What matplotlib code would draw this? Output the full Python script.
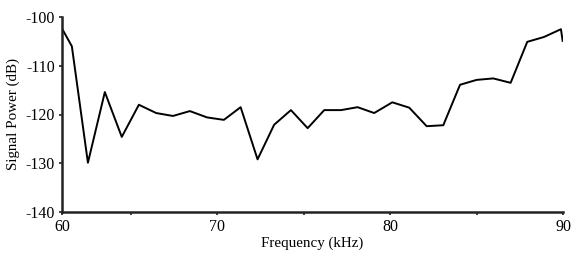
import matplotlib
matplotlib.use("Agg")
import matplotlib.pyplot as plt

freq_khz = [60.99, 61.57, 62.50, 63.48, 64.46, 65.45, 66.45, 67.42, 68.40, 69.40,
            70.37, 71.34, 72.32, 73.28, 74.25, 75.22, 76.18, 77.15, 78.11, 79.07,
            80.12, 81.10, 82.11, 83.07, 84.04, 85.00, 85.96, 86.97, 87.93, 88.90,
            89.88, 89.98]
power_db = [-102.3, -106.0, -129.9, -115.4, -124.6, -118.0, -119.7, -120.3, -119.3, -120.6,
            -121.1, -118.5, -129.2, -122.1, -119.1, -122.8, -119.1, -119.1, -118.5, -119.7,
            -117.5, -118.6, -122.4, -122.2, -113.9, -112.9, -112.6, -113.5, -105.1, -104.1,
            -102.5, -104.9]

x_ticks = [61, 65, 70, 75, 80, 85, 90]
x_tick_labels = ["60", "", "70", "", "80", "", "90"]
y_ticks = [-140, -130, -120, -110, -100]
y_tick_labels = ["-140", "-130", "-120", "-110", "-100"]

plt.rcParams['font.family'] = ['Liberation Serif', 'DejaVu Serif']

fig = plt.figure(figsize=(5.74, 2.65), dpi=100)
ax = fig.add_axes([62/574, 53/265, (563-62)/574, (212-17)/265])
ax.plot(freq_khz, power_db, color='black', lw=1.4)
ax.set_xlim(61, 90)
ax.set_ylim(-140, -100)
ax.set_xticks(x_ticks)
ax.set_xticklabels(x_tick_labels)
ax.set_yticks(y_ticks)
ax.set_yticklabels(y_tick_labels)
for s in ['top', 'right']:
    ax.spines[s].set_visible(False)
for s in ['left', 'bottom']:
    ax.spines[s].set_linewidth(1.8)
    ax.spines[s].set_color('#222222')
ax.tick_params(axis='both', length=2, width=1.2, labelsize=11.5, pad=3, color='#222222')
ax.set_xlabel('Frequency (kHz)', fontsize=10.8, labelpad=1)
ax.set_ylabel('Signal Power (dB)', fontsize=10.8, labelpad=4)
fig.savefig('out.png', dpi=100)
